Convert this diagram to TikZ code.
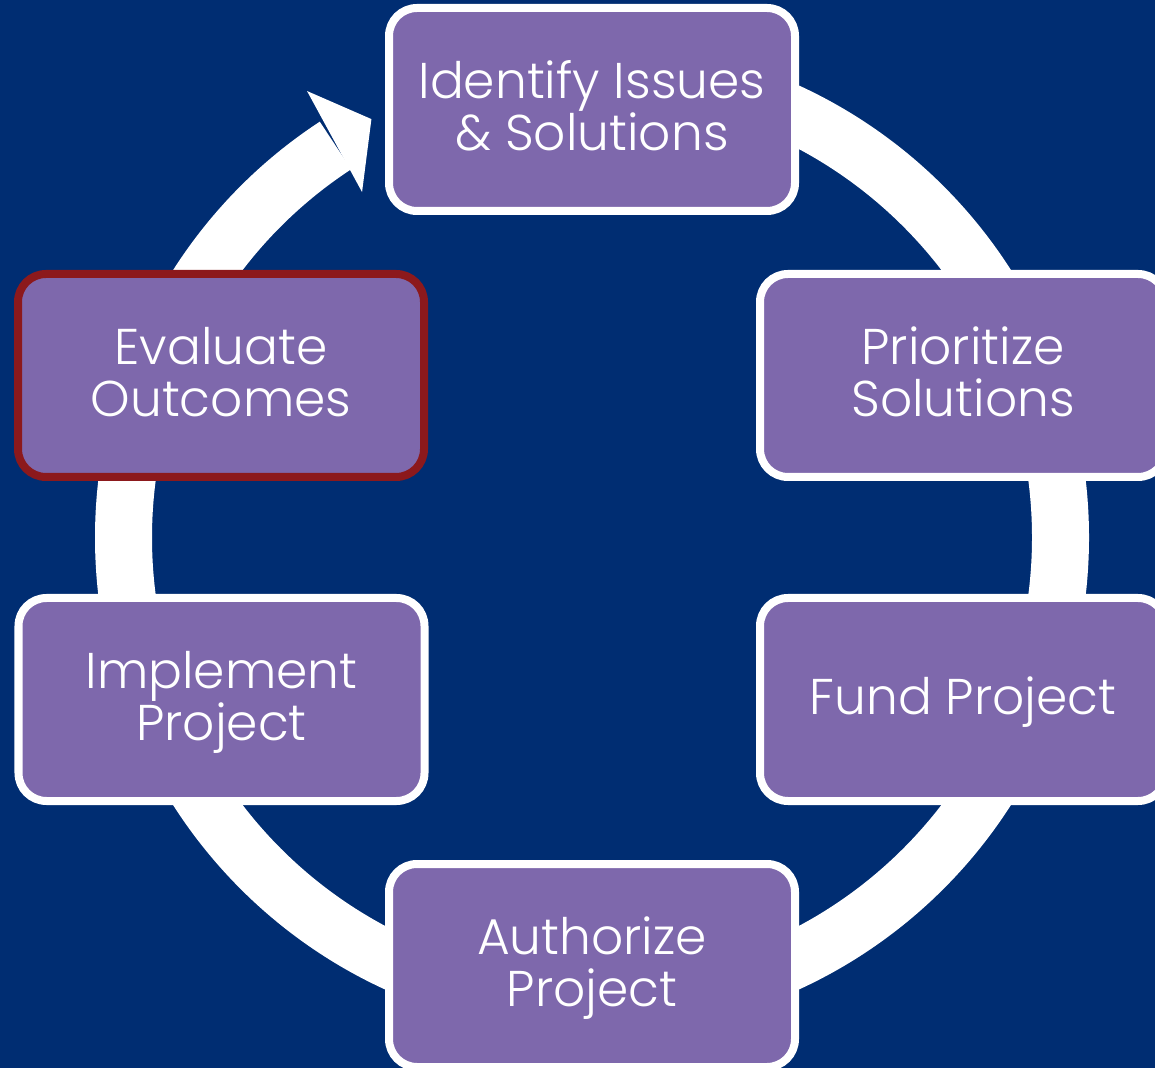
\documentclass[tikz,border=0pt]{standalone}
\usepackage{fontspec}
\setmainfont{Poppins}[UprightFont=* Light]
\definecolor{navy}{HTML}{002D72}
\definecolor{boxpurple}{HTML}{7E68AC}
\definecolor{boxred}{HTML}{8C191C}
\begin{document}
\begin{tikzpicture}[
  stepbox/.style={draw=white, line width=0.08cm, fill=boxpurple, rounded corners=0.28cm,
    minimum width=4.06cm, minimum height=2.03cm, inner sep=0pt, align=center,
    text=white, font=\fontsize{14.3}{14.8}\selectfont,
    text height=0.92cm, text depth=0.1cm},
  oneline/.style={text height=0.41cm, text depth=0.1cm},
  redbox/.style={stepbox, draw=boxred},
  ring/.style={draw=white, line width=0.57cm},
  ringhead/.style={fill=white}
]
\useasboundingbox (0,0) rectangle (11.55,10.68);
\clip (0,0) rectangle (11.55,10.68);
\fill[navy] (0,0) rectangle (11.55,10.68);

\coordinate (c) at (5.92,5.305);
% cycle ring
\draw[ring] ([shift={(90:4.685)}]c) arc[start angle=90, end angle=-236.8, radius=4.685];
\fill[ringhead] ([shift={(122.55:5.297)}]c) -- ([shift={(117.8:4.73)}]c) -- ([shift={(123.65:4.15)}]c) -- cycle;

% steps
\node[stepbox] (identify) at (5.92,9.585) {Identify Issues\\\& Solutions};
\node[stepbox] (prioritize) at (9.63,6.925) {Prioritize\\Solutions};
\node[stepbox, oneline] (fund) at (9.63,3.685) {Fund Project};
\node[stepbox] (authorize) at (5.92,1.025) {Authorize\\Project};
\node[stepbox] (implement) at (2.215,3.685) {Implement\\Project};
\node[redbox] (evaluate) at (2.21,6.925) {Evaluate\\Outcomes};
\end{tikzpicture}
\end{document}
